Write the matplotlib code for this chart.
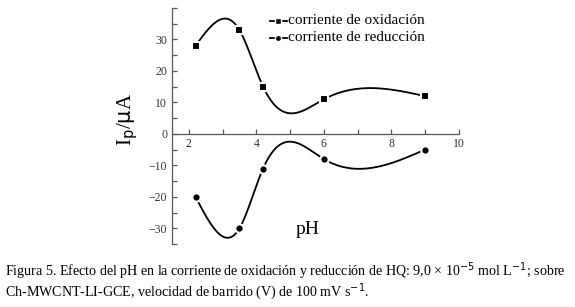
import numpy as np
import matplotlib.pyplot as plt

# data
ph = [2.2, 3.5, 4.2, 6.0, 9.0]
i_ox = [28, 33, 15, 11, 12]
i_red = [-20, -30, -11, -8, -5]


def natural_spline(x, y, xs):
    # natural cubic spline, like the smooth line drawn through the points
    x = np.asarray(x, float)
    y = np.asarray(y, float)
    n = len(x)
    h = np.diff(x)
    A = np.zeros((n, n))
    b = np.zeros(n)
    A[0, 0] = A[-1, -1] = 1
    for i in range(1, n - 1):
        A[i, i-1] = h[i-1]
        A[i, i] = 2*(h[i-1] + h[i])
        A[i, i+1] = h[i]
        b[i] = 6*((y[i+1]-y[i])/h[i] - (y[i]-y[i-1])/h[i-1])
    M = np.linalg.solve(A, b)
    k = np.clip(np.searchsorted(x, xs) - 1, 0, n - 2)
    t1 = x[k+1] - xs
    t2 = xs - x[k]
    hk = h[k]
    return (M[k]*t1**3 + M[k+1]*t2**3)/(6*hk) + (y[k]/hk - M[k]*hk/6)*t1 + (y[k+1]/hk - M[k+1]*hk/6)*t2


plt.rcParams['font.family'] = 'Liberation Serif'

fig = plt.figure(figsize=(5.75, 3.07), dpi=100)
ax = fig.add_axes([0.299, 0.205, 0.499, 0.769])

xs = np.linspace(ph[0], ph[-1], 400)
ax.plot(xs, natural_spline(ph, i_ox, xs), color='black', lw=1.3, zorder=2)
ax.plot(xs, natural_spline(ph, i_red, xs), color='black', lw=1.3, zorder=2)
ax.plot(ph, i_ox, 's', color='black', ms=5.5, mec='white', mew=1.5, zorder=3)
ax.plot(ph, i_red, 'o', color='black', ms=6, mec='white', mew=1.5, zorder=3)

ax.set_xlim(1.5, 10)
ax.set_ylim(-35, 40)
ax.spines['top'].set_visible(False)
ax.spines['right'].set_visible(False)
ax.spines['bottom'].set_position(('data', 0))
for s in ['left', 'bottom']:
    ax.spines[s].set_color('#555555')
    ax.spines[s].set_linewidth(0.9)

ax.set_xticks([2, 4, 6, 8, 10])
ax.set_xticks([3, 5, 7, 9], minor=True)
ax.set_yticks([-30, -20, -10, 0, 10, 20, 30, 40])
ax.set_yticklabels(['\u221230', '\u221220', '\u221210', '0', '10', '20', '30', ''])
ax.set_yticks(np.arange(-35, 40, 10), minor=True)
ax.tick_params(which='both', direction='in', colors='#555555', labelcolor='#333333',
               labelsize=8.5, width=0.9, length=3.5)
ax.tick_params(axis='x', pad=3)

ax.text(5.52, -30.5, 'pH', fontsize=14, ha='center', va='center')
fig.text(0.222, 0.61, r'I$_\mathrm{p}$/$\mathrm{\mu}$A', fontsize=15, rotation=90,
         ha='center', va='center')

# legend drawn by hand
for yd, mk, lab in [(35.9, 's', 'corriente de oxidaci\u00f3n'), (30.6, 'o', 'corriente de reducci\u00f3n')]:
    ax.plot([4.4, 4.9], [yd, yd], color='black', lw=1.3)
    ax.plot([4.65], [yd], mk, color='black', ms=4.5, mec='white', mew=1)
    ax.text(4.93, yd, lab, fontsize=11, va='center', ha='left')

fig.text(0.009, 0.118, 'Figura 5. Efecto del pH en la corriente de oxidaci\u00f3n y reducci\u00f3n de HQ: 9,0 \u00d7 10$^{-5}$ mol L$^{-1}$; sobre',
         fontsize=10.1, va='center')
fig.text(0.009, 0.05, 'Ch-MWCNT-LI-GCE, velocidad de barrido (V) de 100 mV s$^{-1}$.',
         fontsize=10.1, va='center')

fig.savefig('out.png', dpi=100)
